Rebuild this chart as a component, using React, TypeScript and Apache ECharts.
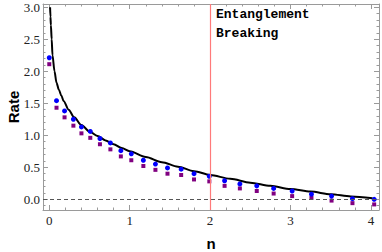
import React, { useEffect, useRef } from "react";
import * as echarts from "echarts";

const nValues = [0, 0.09, 0.19, 0.3, 0.4, 0.51, 0.63, 0.76, 0.89, 1.02, 1.17, 1.32, 1.47, 1.64, 1.8, 1.99, 2.18, 2.37, 2.58, 2.79, 3.02, 3.26, 3.51, 3.77, 4.04];
const blueRates = [2.21, 1.54, 1.38, 1.25, 1.13, 1.06, 0.95, 0.88, 0.76, 0.71, 0.61, 0.55, 0.49, 0.47, 0.4, 0.36, 0.29, 0.24, 0.21, 0.17, 0.13, 0.08, 0.05, 0.01, 0.0];
const purpleRates = [2.11, 1.43, 1.28, 1.15, 1.03, 0.96, 0.86, 0.78, 0.67, 0.61, 0.52, 0.46, 0.4, 0.38, 0.31, 0.28, 0.21, 0.17, 0.13, 0.09, 0.05, 0.02, -0.02, -0.06, -0.08];

const curveN = [0.01, 0.015, 0.02, 0.03, 0.04, 0.065, 0.09, 0.12, 0.15, 0.18, 0.24, 0.31, 0.4, 0.5, 0.6, 0.7, 0.8, 0.9, 1.0, 1.2, 1.4, 1.6, 1.8, 2.0, 2.25, 2.5, 2.75, 3.0, 3.25, 3.5, 3.75, 4.02];
const curveRate = [3.0, 2.85, 2.72, 2.5, 2.25, 2.0, 1.82, 1.71, 1.62, 1.53, 1.4, 1.28, 1.16, 1.06, 0.99, 0.92, 0.86, 0.8, 0.75, 0.66, 0.58, 0.51, 0.44, 0.38, 0.32, 0.26, 0.21, 0.16, 0.12, 0.08, 0.045, 0.015];

const breakN = 2;
const annotationLines = ["Entanglement", "Breaking"];

const X_MIN = -0.078;
const X_MAX = 4.1;
const Y_MIN = -0.167;
const Y_MAX = 3.05;

export default function App() {
  const ref = useRef<HTMLDivElement>(null);
  useEffect(() => {
    if (!ref.current) return;
    const chart = echarts.init(ref.current, null, { renderer: "svg" });
    const frameColor = "#9a9a9a";
    const serif = "Times New Roman";
    const baseAxis = {
      type: "value",
      axisLine: { show: true, onZero: false, lineStyle: { color: frameColor, width: 1 } },
      axisTick: { show: true, inside: true, length: 5, lineStyle: { color: frameColor } },
      minorTick: { show: true, splitNumber: 5, length: 2.5, lineStyle: { color: frameColor } },
      splitLine: { show: false },
    };
    chart.setOption({
      animation: false,
      textStyle: { fontFamily: serif },
      grid: { left: 43, right: 3, top: 4, bottom: 42, outerBoundsMode: "none", containLabel: false },
      xAxis: [
        {
          ...baseAxis,
          min: X_MIN,
          max: X_MAX,
          minInterval: 1,
          maxInterval: 1,
          name: "n",
          nameLocation: "middle",
          nameGap: 26,
          nameMoveOverlap: false,
          nameTextStyle: { fontFamily: "Liberation Sans", fontWeight: "bold", fontSize: 15, color: "#000" },
          axisLabel: {
            showMinLabel: false,
            showMaxLabel: false,
            margin: 4,
            color: "#222",
            fontFamily: serif,
            fontSize: 13,
          },
        },
        {
          ...baseAxis,
          position: "top",
          min: X_MIN,
          max: X_MAX,
          minInterval: 1,
          maxInterval: 1,
          axisLabel: { show: false },
        },
      ],
      yAxis: [
        {
          ...baseAxis,
          min: Y_MIN,
          max: Y_MAX,
          minInterval: 0.5,
          maxInterval: 0.5,
          name: "Rate",
          nameLocation: "middle",
          nameGap: 22,
          nameMoveOverlap: false,
          nameRotate: 90,
          nameTextStyle: { fontFamily: "Liberation Sans", fontWeight: "bold", fontSize: 15, color: "#000" },
          axisLabel: {
            showMinLabel: false,
            showMaxLabel: false,
            margin: 3,
            color: "#222",
            fontFamily: serif,
            fontSize: 13,
            formatter: (v: number) => v.toFixed(1),
          },
        },
        {
          ...baseAxis,
          position: "right",
          min: Y_MIN,
          max: Y_MAX,
          minInterval: 0.5,
          maxInterval: 0.5,
          axisLabel: { show: false },
        },
      ],
      graphic: annotationLines.map((t, i) => ({
        type: "text",
        left: 216,
        top: 8 + i * 19,
        style: {
          text: t,
          font: "bold 13px 'Liberation Mono'",
          fill: "#000",
        },
      })),
      series: [
        {
          type: "line",
          data: [],
          silent: true,
          markLine: {
            silent: true,
            symbol: "none",
            label: { show: false },
            lineStyle: { color: "#555", width: 1, type: [4, 3] },
            data: [{ yAxis: 0 }],
          },
        },
        {
          type: "line",
          data: [],
          silent: true,
          markLine: {
            silent: true,
            symbol: "none",
            label: { show: false },
            lineStyle: { color: "#ff7a7a", width: 1.2, type: "solid", opacity: 1 },
            data: [{ xAxis: breakN }],
          },
        },
        {
          type: "line",
          data: curveN.map((n, i) => [n, curveRate[i]]),
          showSymbol: false,
          smooth: 0.3,
          smoothMonotone: "x",
          lineStyle: { color: "#000", width: 2 },
          z: 3,
        },
        {
          type: "scatter",
          data: nValues.map((n, i) => [n, purpleRates[i]]),
          symbol: "rect",
          symbolSize: 4,
          itemStyle: { color: "#800080", opacity: 1 },
          z: 4,
        },
        {
          type: "scatter",
          data: nValues.map((n, i) => [n, blueRates[i]]),
          symbol: "circle",
          symbolSize: 5,
          itemStyle: { color: "#0000ff", opacity: 1 },
          z: 4,
        },
      ],
    });
    return () => chart.dispose();
  }, []);
  return (
    <div
      ref={ref}
      style={{ position: "fixed", left: 0, top: 0, width: 382, height: 252, background: "#fff" }}
    />
  );
}
